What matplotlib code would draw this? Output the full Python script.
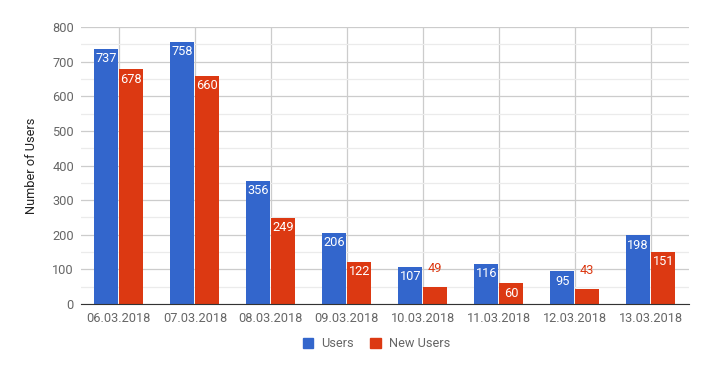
import numpy as np
import matplotlib.pyplot as plt
from matplotlib.patches import Patch
from matplotlib.ticker import MultipleLocator

plt.rcParams['font.family'] = ['Roboto', 'DejaVu Sans']

dates = ["06.03.2018", "07.03.2018", "08.03.2018", "09.03.2018",
         "10.03.2018", "11.03.2018", "12.03.2018", "13.03.2018"]
users = [737, 758, 356, 206, 107, 116, 95, 198]
new_users = [678, 660, 249, 122, 49, 60, 43, 151]

blue = "#3366cc"
red = "#dc3912"
grey = "#666666"
fs = 9.2

fig = plt.figure(figsize=(7.1, 3.71), dpi=100)
ax = fig.add_axes([0.114, 0.1806, 0.856, 0.7464])

x = np.arange(len(dates))
w = 0.315
b1 = ax.bar(x - w / 2 - 0.007, users, w, color=blue, zorder=3)
b2 = ax.bar(x + w / 2 + 0.007, new_users, w, color=red, zorder=3)

# labels inside the bar when there is room, otherwise above in bar colour
for bars, vals, col in [(b1, users, blue), (b2, new_users, red)]:
    for bar, v in zip(bars, vals):
        cx = bar.get_x() + bar.get_width() / 2
        if v >= 60:
            ax.annotate(str(v), (cx, v), xytext=(0, -2.5), textcoords="offset points",
                        ha="center", va="top", color="white", fontsize=fs, zorder=4)
        else:
            ax.annotate(str(v), (cx, v), xytext=(0, 9), textcoords="offset points",
                        ha="center", va="bottom", color=col, fontsize=fs, zorder=4)

ax.set_xlim(-0.5, len(dates) - 0.5)
ax.set_ylim(0, 800)
ax.yaxis.set_major_locator(MultipleLocator(100))
ax.yaxis.set_minor_locator(MultipleLocator(50))
ax.set_xticks(x)
ax.set_xticklabels(dates)

ax.grid(which="major", axis="both", color="#cccccc", lw=0.9, zorder=0)
ax.grid(which="minor", axis="y", color="#ebebeb", lw=0.9, zorder=0)
ax.tick_params(which="both", length=0, colors=grey, labelsize=fs)
ax.tick_params(axis="x", pad=6)
ax.tick_params(axis="y", pad=5)
for s in ["top", "right", "left"]:
    ax.spines[s].set_visible(False)
ax.spines["bottom"].set_color("#333333")
ax.spines["bottom"].set_zorder(5)

ax.set_ylabel("Number of Users", fontsize=fs, color="#222222", labelpad=10)

handles = [Patch(color=blue, label="Users"), Patch(color=red, label="New Users")]
fig.legend(handles=handles, loc="center", bbox_to_anchor=(0.53, 0.073), ncol=2,
           frameon=False, fontsize=fs, handlelength=0.85, handleheight=0.85,
           handletextpad=0.6, columnspacing=1.3, labelcolor=grey)

fig.savefig("out.png", dpi=100)
